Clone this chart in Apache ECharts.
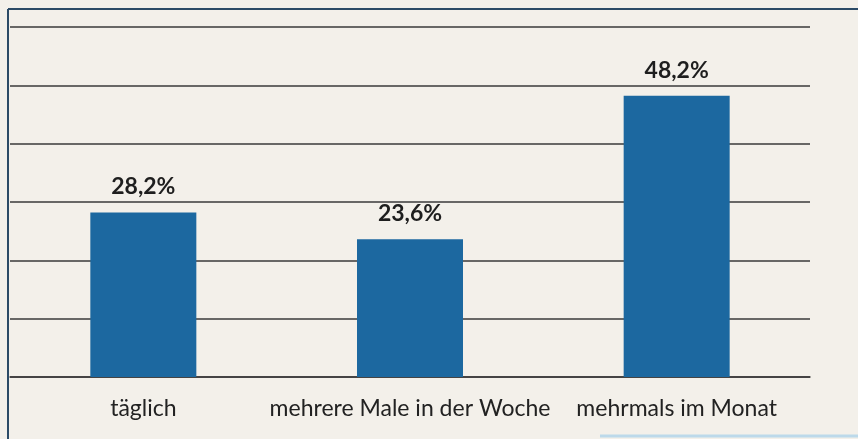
<!DOCTYPE html>
<html>
<head>
<meta charset="utf-8">
<script src="https://cdn.jsdelivr.net/npm/echarts@6/dist/echarts.min.js"></script>
<style>
  html, body { margin: 0; padding: 0; background: #f3f0ea; }
  #chart { width: 858px; height: 439px; }
</style>
</head>
<body>
<div id="chart"></div>
<script>
// Häufigkeit der Nutzung (Anteile in Prozent)
const categories = ['täglich', 'mehrere Male in der Woche', 'mehrmals im Monat'];
const shares = [28.2, 23.6, 48.2];
const axisMax = 60;
const axisStep = 10;

const chart = echarts.init(document.getElementById('chart'), null, { renderer: 'canvas' });
const fontFamily = 'Lato, "Open Sans", sans-serif';

chart.setOption({
  backgroundColor: '#f3f0ea',
  animation: false,
  grid: { left: 10, right: 48, top: 27, bottom: 62, containLabel: false },
  xAxis: {
    type: 'category',
    data: categories,
    axisLine: { show: true, lineStyle: { color: '#3a3a3a', width: 1.5 } },
    axisTick: { show: false },
    axisLabel: {
      margin: 20,
      color: '#222',
      fontSize: 23,
      fontFamily: fontFamily,
      interval: 0
    }
  },
  yAxis: {
    type: 'value',
    min: 0,
    max: axisMax,
    interval: axisStep,
    axisLine: { show: false },
    axisTick: { show: false },
    axisLabel: { show: false },
    splitLine: { show: true, lineStyle: { color: '#3a3a3a', width: 1.5 } }
  },
  series: [{
    type: 'bar',
    data: shares,
    barWidth: 106,
    itemStyle: { color: '#1c68a0' },
    label: {
      show: true,
      position: 'top',
      distance: 14,
      color: '#1e1e1e',
      fontSize: 23,
      fontWeight: 'bold',
      fontFamily: fontFamily,
      formatter: p => p.value.toFixed(1).replace('.', ',') + '%'
    }
  }],
  graphic: [
    { type: 'line', shape: { x1: 8, y1: 9, x2: 858, y2: 9 }, style: { stroke: '#2b4a66', lineWidth: 2 } },
    { type: 'line', shape: { x1: 8, y1: 9, x2: 8, y2: 439 }, style: { stroke: '#2b4a66', lineWidth: 2 } },
    { type: 'line', shape: { x1: 600, y1: 436, x2: 858, y2: 436 }, style: { stroke: '#bcd9ea', lineWidth: 3 } }
  ]
});
</script>
</body>
</html>
